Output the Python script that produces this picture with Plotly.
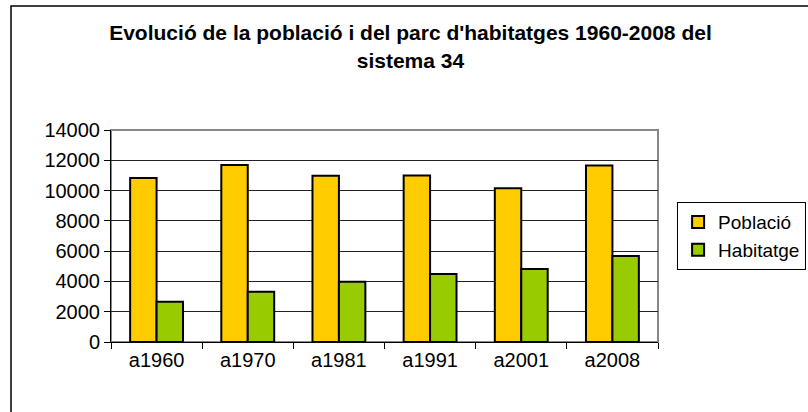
import plotly.graph_objects as go

categories = ["a1960", "a1970", "a1981", "a1991", "a2001", "a2008"]
poblacio = [10830, 11690, 10980, 10990, 10150, 11650]
habitatge = [2660, 3320, 3980, 4490, 4820, 5680]
y_ticks = [0, 2000, 4000, 6000, 8000, 10000, 12000, 14000]
y_tick_labels = ["0", "2000", "4000", "6000", "8000", "10000", "12000", "14000"]

FONT = "Liberation Sans, Arial, sans-serif"

fig = go.Figure()
fig.add_trace(go.Bar(x=categories, y=poblacio, name="Població",
                     marker=dict(color="#FFCC00", line=dict(color="black", width=2))))
fig.add_trace(go.Bar(x=categories, y=habitatge, name="Habitatge",
                     marker=dict(color="#99CC00", line=dict(color="black", width=2))))

fig.update_layout(
    width=808, height=412,
    margin=dict(l=111, r=150, t=130, b=70, autoexpand=False),
    paper_bgcolor="white", plot_bgcolor="white",
    barmode="group", bargap=0.42, bargroupgap=0,
    font=dict(family=FONT, size=20, color="black"),
    title=dict(text="<b>Evolució de la població i del parc d'habitatges 1960-2008 del<br>sistema 34</b>",
               x=0.508, xanchor="center", y=0.902, yanchor="middle",
               font=dict(family=FONT, size=21, color="black")),
    legend=dict(x=0.838, y=0.66, xref="container", xanchor="left", yanchor="top",
                bordercolor="black", borderwidth=1, bgcolor="white",
                font=dict(size=19), tracegroupgap=0, itemsizing="constant", itemwidth=30),
    xaxis=dict(showline=True, linecolor="black", linewidth=1,
               ticks="outside", ticklen=6, tickcolor="black", tickson="boundaries",
               showgrid=False, tickfont=dict(size=20)),
    yaxis=dict(range=[0, 14000], tickvals=y_ticks, ticktext=y_tick_labels,
               showline=True, linecolor="black", linewidth=1,
               ticks="outside", ticklen=6, tickcolor="black",
               showgrid=True, gridcolor="#222222", gridwidth=1, zeroline=False,
               tickfont=dict(size=20)),
    shapes=[
        dict(type="rect", xref="paper", yref="paper", x0=0, x1=1, y0=0, y1=1,
             line=dict(color="#888888", width=2), layer="below"),
        dict(type="rect", xref="paper", yref="paper", x0=-0.1828, x1=1.3, y0=-0.4, y1=1.585,
             line=dict(color="black", width=1.5), layer="below"),
    ],
)

fig.write_html("out.html", config={"displayModeBar": False},
               post_script="document.body.style.margin='0';document.body.style.overflow='hidden';")
